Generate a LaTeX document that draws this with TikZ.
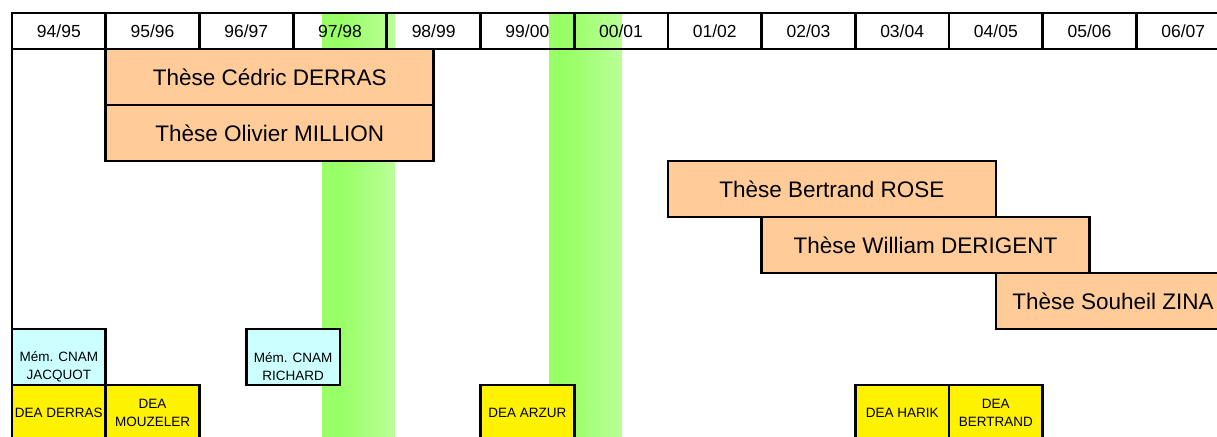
\documentclass[tikz,border=0pt]{standalone}
\usepackage{fontspec}
\setmainfont{Liberation Sans}
\usetikzlibrary{positioning}

\definecolor{peach}{RGB}{255,204,153}
\definecolor{palecyan}{RGB}{204,255,255}
\definecolor{greenL}{RGB}{153,255,102}
\definecolor{greenR}{RGB}{187,255,153}
\pgfdeclarehorizontalshading{bandshade}{100bp}{color(0bp)=(greenL); color(25bp)=(greenL); color(38bp)=(greenL); color(75bp)=(greenR); color(100bp)=(greenR)}

\tikzset{
  box/.style={draw, line width=2.8pt, outer sep=0pt, inner sep=0pt, anchor=north west, align=center},
  cell/.style={box, minimum width=93.7pt, minimum height=36pt, font=\fontsize{17.5}{20}\selectfont},
  these/.style={box, fill=peach, minimum width=328pt, minimum height=56pt, font=\fontsize{22.5}{26}\selectfont},
  memoire/.style={box, fill=palecyan, minimum width=93.7pt, minimum height=56pt, font=\fontsize{13.5}{17.5}\selectfont},
  dea/.style={memoire, fill=yellow},
  band/.style={shading=bandshade}
}

\begin{document}
\begin{tikzpicture}[x=1pt,y=-1pt]
                \useasboundingbox (0,0) rectangle (1217,436);
                \clip (0,0) rectangle (1217,436);

                % green bands
                \shade[band] (322,13) rectangle (395,436);
                \shade[band] (549,13) rectangle (622,436);

                % years
                \foreach \a/\b [count=\i from 0] in {94/95,95/96,96/97,97/98,98/99,99/00,00/01,01/02,02/03,03/04,04/05,05/06,06/07}
                    \node[cell] (h\i) at ({12+93.7*\i},13) {\a/\b};

                % theses
                \node[these] (cedric) at (105.7,49) {Thèse Cédric DERRAS};
                \node[these, below right=0pt and 0pt of cedric.south west] (million) {Thèse Olivier MILLION};
                \node[these] (rose) at (667.9,161) {Thèse Bertrand ROSE};
                \node[these, below right=0pt and 93.7pt of rose.south west] (derigent) {Thèse William DERIGENT};
                \node[these, minimum width=234.25pt] (zina) at (rose.south east |- derigent.south) {Thèse Souheil ZINA};

                % memoires CNAM
                \node[memoire] (memJ) at (12,329) {\mbox{}\\[12pt]Mém. CNAM\\JACQUOT};
                \node[memoire] (memR) at (246.25,329) {\mbox{}\\[12pt]Mém. CNAM\\RICHARD};
                \draw[line width=2.8pt] (h0.south west) -- (memJ.north west);

                % DEA
                \node[dea, below right=0pt and 0pt of memJ.south west] (deaD) {DEA DERRAS};
                \node[dea, right=0pt of deaD, anchor=west] (deaM) {DEA\\MOUZELER};
                \node[dea] (deaA) at (480.5,385) {DEA ARZUR};
                \node[dea] (deaH) at (855.3,385) {DEA HARIK};
                \node[dea, right=0pt of deaH, anchor=west] (deaB) {DEA\\BERTRAND};
            \end{tikzpicture}
\end{document}
